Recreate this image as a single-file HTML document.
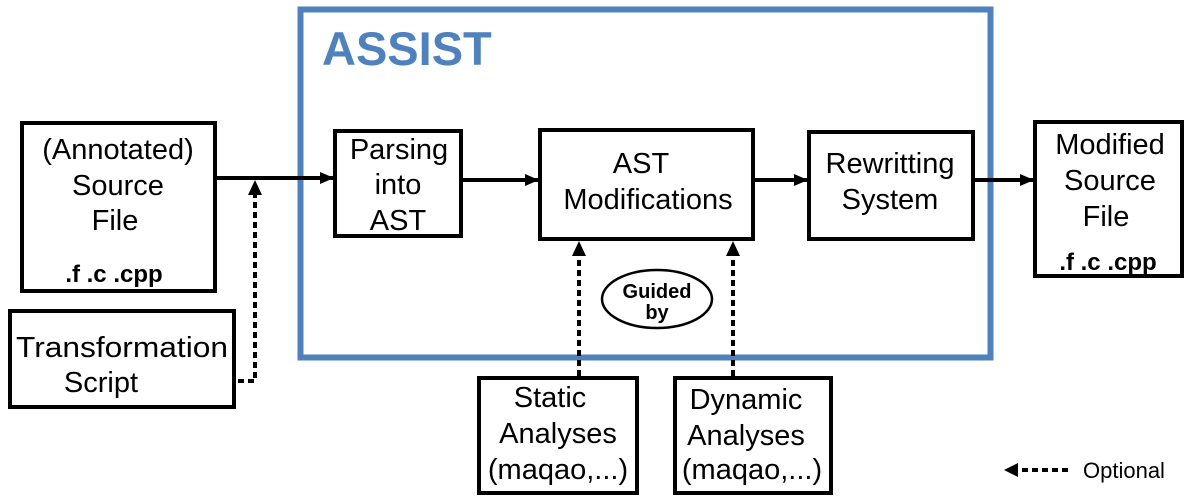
<!DOCTYPE html>
<html><head><style>
html,body{margin:0;padding:0;background:#fff;}
svg{display:block;font-family:"Liberation Sans",Arial,sans-serif;}
</style></head><body>
<svg width="1198" height="502" viewBox="0 0 1198 502" xmlns="http://www.w3.org/2000/svg">
<defs>
<marker id="ah" markerWidth="14" markerHeight="14" refX="13" refY="7" orient="auto" markerUnits="userSpaceOnUse"><path d="M0,1 L14,7 L0,13 z" fill="#000"/></marker>
</defs>
<rect x="300.5" y="9.5" width="690" height="348" fill="none" stroke="#4f81bd" stroke-width="6"/>
<text x="322" y="65" font-size="47" font-weight="bold" fill="#4f81bd">ASSIST</text>

<g fill="none" stroke="#000" stroke-width="4">
<rect x="22" y="123" width="193" height="168"/>
<rect x="10" y="311" width="224" height="96"/>
<rect x="335" y="131" width="126" height="105"/>
<rect x="540" y="130" width="213" height="109"/>
<rect x="809" y="132" width="164" height="107"/>
<rect x="1035" y="122" width="147" height="154"/>
<rect x="479" y="378" width="158" height="115"/>
<rect x="675" y="378" width="156" height="115"/>
</g>
<ellipse cx="657" cy="299" rx="55" ry="29" fill="none" stroke="#000" stroke-width="2.5"/>

<g stroke="#000" stroke-width="4" fill="none">
<line x1="215" y1="178" x2="333" y2="178" marker-end="url(#ah)"/>
<line x1="461" y1="180" x2="538" y2="180" marker-end="url(#ah)"/>
<line x1="753" y1="180" x2="807" y2="180" marker-end="url(#ah)"/>
<line x1="973" y1="180" x2="1033" y2="180" marker-end="url(#ah)"/>
</g>
<g stroke="#000" stroke-width="4" fill="none" stroke-dasharray="6,4">
<polyline points="238,381 255,381 255,190"/>
<line x1="579" y1="376" x2="579" y2="252"/>
<line x1="733" y1="376" x2="733" y2="252"/>
<line x1="1068" y1="470" x2="1016" y2="470" stroke-width="4"/>
</g>
<path d="M248,195 L255,180 L262,195 z"/>
<path d="M572,256 L579,241 L586,256 z"/>
<path d="M726,256 L733,241 L740,256 z"/>
<path d="M1004,470 L1018,463 L1018,477 z"/>
<text x="1083" y="478" font-size="22">Optional</text>

<g font-size="29" text-anchor="middle" fill="#000">
<text x="118" y="159">(Annotated)</text>
<text x="118" y="195">Source</text>
<text x="115" y="230">File</text>
<text x="114" y="282" font-size="24" font-weight="bold">.f .c .cpp</text>
<text x="122" y="357" textLength="212" lengthAdjust="spacingAndGlyphs">Transformation</text>
<text x="101" y="392">Script</text>
<text x="399" y="159">Parsing</text>
<text x="398" y="194">into</text>
<text x="398" y="230">AST</text>
<text x="641" y="173">AST</text>
<text x="648" y="209">Modifications</text>
<text x="890" y="173">Rewritting</text>
<text x="890" y="209">System</text>
<text x="1110" y="154">Modified</text>
<text x="1110" y="190">Source</text>
<text x="1106" y="226">File</text>
<text x="1108" y="270" font-size="24" font-weight="bold">.f .c .cpp</text>
<text x="550" y="407">Static</text>
<text x="558" y="443">Analyses</text>
<text x="558" y="479">(maqao,...)</text>
<text x="746" y="409">Dynamic</text>
<text x="746" y="445">Analyses</text>
<text x="752" y="479">(maqao,...)</text>
<text x="657" y="298" font-size="20" font-weight="bold">Guided</text>
<text x="657" y="319" font-size="20" font-weight="bold">by</text>
</g>
</svg>
</body></html>
